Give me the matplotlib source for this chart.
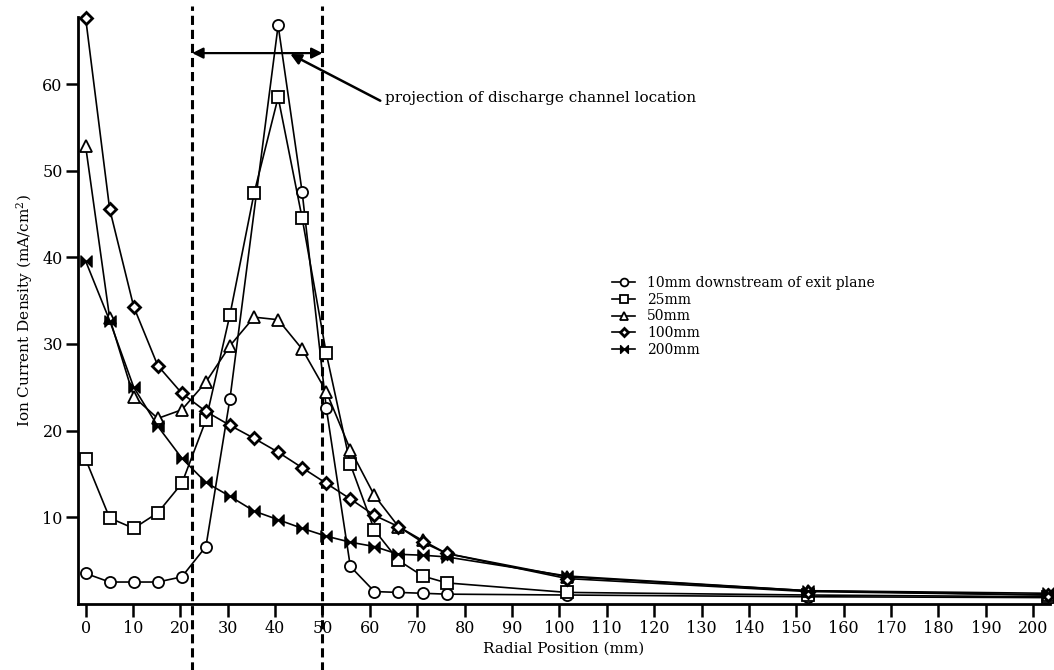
"""Ion current density vs radial position at several downstream distances."""

import matplotlib

matplotlib.use("Agg")
import matplotlib.pyplot as plt
from matplotlib.path import Path

# ---------------------------------------------------------------------------
# Data (radial positions are the 0.2 in probe steps, in mm)
# ---------------------------------------------------------------------------

X_ALL = [0, 5.08, 10.16, 15.24, 20.32, 25.4, 30.48, 35.56, 40.64, 45.72,
         50.8, 55.88, 60.96, 66.04, 71.12, 76.2, 101.6, 152.4, 203.2]

# 10 mm curve has no point at 35.56 mm
X_10MM = [0, 5.08, 10.16, 15.24, 20.32, 25.4, 30.48, 40.64, 45.72,
          50.8, 55.88, 60.96, 66.04, 71.12, 76.2, 101.6, 152.4, 203.2]
J_10MM = [3.5, 2.5, 2.5, 2.5, 3.1, 6.6, 23.7, 66.8, 47.5,
          22.6, 4.3, 1.4, 1.3, 1.2, 1.1, 1.0, 0.8, 0.7]

J_25MM = [16.7, 9.9, 8.7, 10.5, 13.9, 21.2, 33.4, 47.4, 58.5, 44.5,
          28.9, 16.1, 8.5, 5.0, 3.2, 2.4, 1.3, 1.0, 0.8]
J_50MM = [52.9, 33.0, 23.9, 21.4, 22.4, 25.6, 29.8, 33.1, 32.8, 29.4,
          24.5, 17.8, 12.5, 8.9, 7.3, 5.8, 3.1, 1.5, 1.0]
J_100MM = [67.7, 45.6, 34.3, 27.5, 24.3, 22.2, 20.6, 19.1, 17.5, 15.7,
           13.9, 12.1, 10.2, 8.9, 7.1, 5.8, 2.9, 1.4, 1.0]
J_200MM = [39.6, 32.7, 25.0, 20.5, 16.8, 14.0, 12.4, 10.7, 9.7, 8.7,
           7.8, 7.1, 6.6, 5.7, 5.6, 5.4, 3.2, 1.5, 1.2]

LABELS = ["10mm downstream of exit plane", "25mm", "50mm", "100mm", "200mm"]

CHANNEL_EDGES = [22.5, 50.0]
X_TICKS = list(range(0, 201, 10))
Y_TICKS = [10, 20, 30, 40, 50, 60]

# ---------------------------------------------------------------------------
# Style
# ---------------------------------------------------------------------------

FONT = "DejaVu Serif"
plt.rcParams["font.family"] = FONT
plt.rcParams["mathtext.fontset"] = "dejavuserif"

BOWTIE = Path(
    [(-1, -1), (-1, 1), (0, 0), (1, 1), (1, -1), (0, 0), (-1, -1)],
    [Path.MOVETO, Path.LINETO, Path.LINETO, Path.LINETO, Path.LINETO,
     Path.LINETO, Path.CLOSEPOLY],
)

LINE_KW = dict(color="black", linewidth=1.2, clip_on=False, zorder=3)

fig = plt.figure(figsize=(10.54, 6.70), dpi=100)
ax = fig.add_axes([0.074, 0.099, 0.922, 0.876])

ax.plot(X_10MM, J_10MM, marker="o", ms=8, mfc="white", mec="black", mew=1.3,
        label=LABELS[0], **LINE_KW)
ax.plot(X_ALL, J_25MM, marker="s", ms=8, mfc="white", mec="black", mew=1.3,
        label=LABELS[1], **LINE_KW)
ax.plot(X_ALL, J_50MM, marker="^", ms=8.5, mfc="white", mec="black", mew=1.3,
        label=LABELS[2], **LINE_KW)
ax.plot(X_ALL, J_100MM, marker="D", ms=6.5, mfc="white", mec="black", mew=2.0,
        label=LABELS[3], **LINE_KW)
ax.plot(X_ALL, J_200MM, marker=BOWTIE, ms=8, mfc="black", mec="black", mew=1.0,
        label=LABELS[4], **LINE_KW)

# projection of the discharge channel
for xe in CHANNEL_EDGES:
    ax.plot([xe, xe], [-7.8, 69.0], color="black", linewidth=2.2,
            linestyle=(0, (3.0, 1.6)), clip_on=False, zorder=2)

ax.annotate("", xy=(CHANNEL_EDGES[0], 63.6), xytext=(CHANNEL_EDGES[1], 63.6),
            arrowprops=dict(arrowstyle="<|-|>", color="black", lw=1.6,
                            mutation_scale=16, shrinkA=0, shrinkB=0))
ax.annotate("", xy=(43.2, 63.5), xytext=(62.2, 58.1),
            arrowprops=dict(arrowstyle="-|>", color="black", lw=1.8,
                            mutation_scale=16, shrinkA=0, shrinkB=0))
ax.text(63.2, 58.4, "projection of discharge channel location",
        fontsize=11, ha="left", va="center")

ax.set_xlim(-1.6, 203.5)
ax.set_ylim(0, 67.8)
ax.set_xticks(X_TICKS)
ax.set_yticks(Y_TICKS)

for side in ("top", "right"):
    ax.spines[side].set_visible(False)
for side in ("left", "bottom"):
    ax.spines[side].set_linewidth(2.0)

ax.tick_params(axis="both", direction="out", length=9, width=1.8,
               labelsize=11.5)
ax.tick_params(axis="y", pad=2)
ax.tick_params(axis="x", pad=3)

ax.set_xlabel("Radial Position (mm)", fontsize=11, labelpad=3)
ax.set_ylabel("Ion Current Density (mA/cm$^2$)", fontsize=11, labelpad=5)

ax.legend(loc="upper left", bbox_to_anchor=(0.54, 0.575), frameon=False,
          fontsize=10, handlelength=1.6, handletextpad=0.9, labelspacing=0.2,
          markerscale=0.7, borderpad=0.2)

fig.savefig("out.png", dpi=100)
